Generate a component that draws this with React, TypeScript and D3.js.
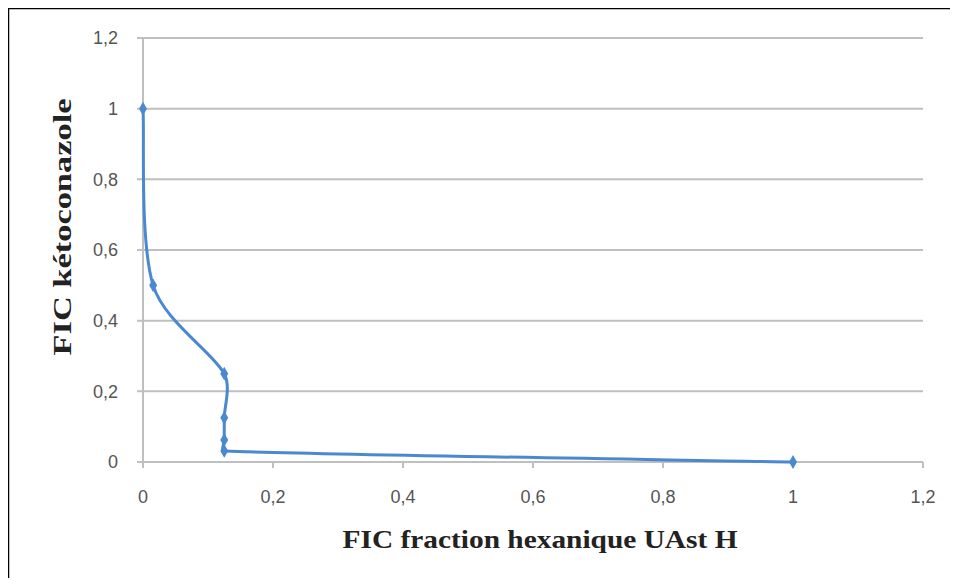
import React, { useEffect, useRef } from "react";
import * as d3 from "d3";

// FIC values
const ficHexane = [0, 0.0156, 0.125, 0.125, 0.125, 0.125, 1];
const ficKeto = [1, 0.5, 0.25, 0.125, 0.0625, 0.03125, 0];
const xTicks = [0, 0.2, 0.4, 0.6, 0.8, 1, 1.2];
const yTicks = [0, 0.2, 0.4, 0.6, 0.8, 1, 1.2];

const width = 958;
const height = 586;
const fmt = (v: number) => String(+v.toFixed(1)).replace(".", ",");

// smoothing close to a spreadsheet "smoothed line": catmull-rom tangents,
// with the handle length capped by the segment length so short steps don't loop
function curveSmoothCapped(context: any) {
  let pts: [number, number][] = [];
  return {
    areaStart() {},
    areaEnd() {},
    lineStart() { pts = []; },
    point(x: number, y: number) { pts.push([x, y]); },
    lineEnd() {
      const n = pts.length;
      if (!n) return;
      context.moveTo(pts[0][0], pts[0][1]);
      const tan = pts.map((p, i) => {
        const a = pts[Math.max(0, i - 1)];
        const b = pts[Math.min(n - 1, i + 1)];
        const dx = b[0] - a[0], dy = b[1] - a[1];
        const l = Math.hypot(dx, dy) || 1;
        return { ux: dx / l, uy: dy / l, len: l };
      });
      for (let i = 0; i < n - 1; i++) {
        const p = pts[i], q = pts[i + 1];
        const seg = Math.hypot(q[0] - p[0], q[1] - p[1]);
        const h1 = Math.min(tan[i].len / 6, seg / 3);
        const h2 = Math.min(tan[i + 1].len / 6, seg / 3);
        context.bezierCurveTo(
          p[0] + tan[i].ux * h1, p[1] + tan[i].uy * h1,
          q[0] - tan[i + 1].ux * h2, q[1] - tan[i + 1].uy * h2,
          q[0], q[1]
        );
      }
    },
  };
}

const App = () => {
  const ref = useRef<SVGSVGElement>(null);

  useEffect(() => {
    const svg = d3.select(ref.current);
    svg.selectAll("*").remove();

    const x = d3.scaleLinear().domain([0, 1.2]).range([143, 923]);
    const y = d3.scaleLinear().domain([0, 1.2]).range([462, 38]);

    // frame
    svg.append("rect").attr("x", 0).attr("y", 0).attr("width", width).attr("height", height).attr("fill", "#fff");
    svg.append("path")
      .attr("d", `M8,${height} L8,8 L${width},8`)
      .attr("fill", "none").attr("stroke", "#000").attr("stroke-width", 2.5);
    svg.append("line").attr("x1", 10).attr("x2", width).attr("y1", 584).attr("y2", 584)
      .attr("stroke", "#eee").attr("stroke-width", 1.5);

    // gridlines
    svg.append("g").selectAll("line").data(yTicks.filter((t) => t > 0)).join("line")
      .attr("x1", x(0) - 6).attr("x2", x(1.2))
      .attr("y1", (d) => y(d)).attr("y2", (d) => y(d))
      .attr("stroke", "#bfbfbf").attr("stroke-width", 2);

    // axes
    svg.append("line").attr("x1", x(0)).attr("x2", x(0)).attr("y1", y(1.2)).attr("y2", y(0))
      .attr("stroke", "#bfbfbf").attr("stroke-width", 2);
    svg.append("line").attr("x1", x(0) - 6).attr("x2", x(1.2)).attr("y1", y(0)).attr("y2", y(0))
      .attr("stroke", "#bfbfbf").attr("stroke-width", 2);
    svg.append("g").selectAll("line").data(xTicks).join("line")
      .attr("x1", (d) => x(d)).attr("x2", (d) => x(d))
      .attr("y1", y(0)).attr("y2", y(0) + 6)
      .attr("stroke", "#bfbfbf").attr("stroke-width", 2);

    const tickFont = "'Liberation Sans Narrow', 'Liberation Sans', Arial, sans-serif";
    svg.append("g").selectAll("text").data(yTicks).join("text")
      .attr("x", 118).attr("y", (d) => y(d)).attr("dy", "0.35em")
      .attr("text-anchor", "end").attr("font-family", tickFont).attr("font-size", 18)
      .attr("fill", "#555").text((d) => fmt(d));
    svg.append("g").selectAll("text").data(xTicks).join("text")
      .attr("x", (d) => x(d)).attr("y", 503)
      .attr("text-anchor", "middle").attr("font-family", tickFont).attr("font-size", 18)
      .attr("fill", "#555").text((d) => fmt(d));

    // axis titles (condensed bold serif)
    const titleFont = "'Liberation Serif', 'Times New Roman', serif";
    svg.append("text")
      .attr("x", 540).attr("y", 548).attr("text-anchor", "middle")
      .attr("font-family", titleFont).attr("font-weight", "bold").attr("font-size", 26)
      .attr("textLength", 395).attr("lengthAdjust", "spacingAndGlyphs")
      .attr("fill", "#222").text("FIC fraction hexanique  UAst H");
    svg.append("text")
      .attr("transform", `translate(71,227) rotate(-90)`).attr("text-anchor", "middle")
      .attr("font-family", titleFont).attr("font-weight", "bold").attr("font-size", 25)
      .attr("textLength", 257).attr("lengthAdjust", "spacingAndGlyphs")
      .attr("fill", "#222").text("FIC kétoconazole");

    // series
    const pts = ficHexane.map((h, i) => [h, ficKeto[i]] as [number, number]);
    const line = d3.line<[number, number]>()
      .x((d) => x(d[0])).y((d) => y(d[1]))
      .curve(curveSmoothCapped as any);
    svg.append("path").datum(pts).attr("d", line)
      .attr("fill", "none").attr("stroke", "#4a89d0").attr("stroke-width", 3);
    svg.append("g").selectAll("path").data(pts).join("path")
      .attr("d", d3.symbol(d3.symbolDiamond, 55))
      .attr("transform", (d) => `translate(${x(d[0])},${y(d[1])})`)
      .attr("fill", "#4a89d0");
  }, []);

  return <svg ref={ref} width={width} height={height} style={{ display: "block", margin: -8 }} />;
};

export default App;
